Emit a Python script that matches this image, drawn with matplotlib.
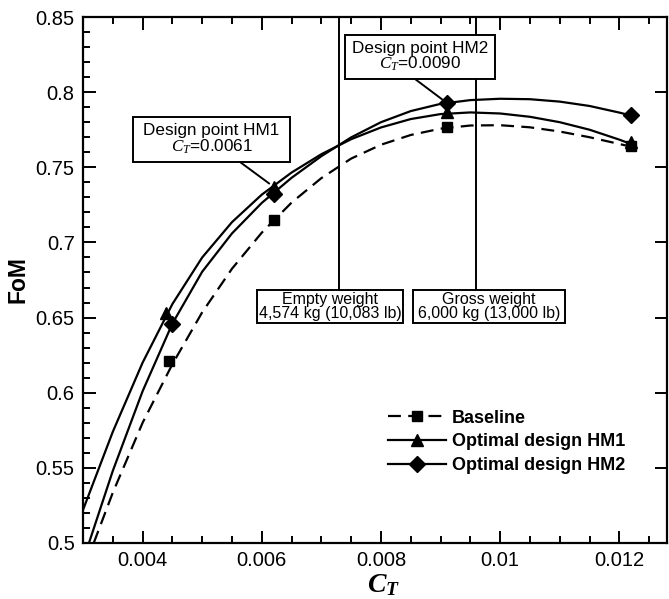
import matplotlib
matplotlib.use("Agg")
import matplotlib.pyplot as plt
from matplotlib.lines import Line2D
from matplotlib.patches import Rectangle
from matplotlib.ticker import FixedLocator, MultipleLocator

plt.rcParams['font.family'] = ['Liberation Sans', 'DejaVu Sans']
plt.rcParams['mathtext.fontset'] = 'custom'
plt.rcParams['mathtext.it'] = 'Liberation Serif:italic'
plt.rcParams['mathtext.bf'] = 'Liberation Serif:bold:italic'
plt.rcParams['mathtext.rm'] = 'Liberation Serif'

# ---- data ----
grid_x = [0.0035, 0.0040, 0.0045, 0.0050, 0.0055, 0.0060, 0.0065, 0.0070, 0.0075,
          0.0080, 0.0085, 0.0090, 0.0095, 0.0100, 0.0105, 0.0110, 0.0115, 0.0120, 0.0122]

base_curve_x = [0.00318] + grid_x
base_curve_y = [0.500, 0.5335, 0.580, 0.619, 0.6535, 0.6825, 0.7065, 0.7265, 0.7428, 0.7558,
                0.765, 0.7715, 0.7757, 0.7778, 0.778, 0.7766, 0.7738, 0.770, 0.7655, 0.7637]

hm1_curve_x = [0.0030] + grid_x
hm1_curve_y = [0.522, 0.574, 0.620, 0.659, 0.690, 0.7135, 0.7318, 0.7465, 0.7587, 0.7687,
               0.7765, 0.7821, 0.7854, 0.7865, 0.7858, 0.7836, 0.780, 0.775, 0.7684, 0.7654]

hm2_curve_x = [0.0031] + grid_x
hm2_curve_y = [0.500, 0.548, 0.601, 0.646, 0.6805, 0.706, 0.7263, 0.743, 0.7574, 0.7699,
               0.780, 0.7874, 0.7922, 0.7947, 0.7956, 0.7953, 0.7937, 0.7908, 0.7864, 0.7844]

base_pts_x = [0.00445, 0.0062, 0.0091, 0.0122]
base_pts_y = [0.621, 0.715, 0.777, 0.764]
hm1_pts_x = [0.0044, 0.0062, 0.0091, 0.0122]
hm1_pts_y = [0.653, 0.737, 0.787, 0.767]
hm2_pts_x = [0.0045, 0.0062, 0.0091, 0.0122]
hm2_pts_y = [0.646, 0.732, 0.793, 0.785]

series_names = ['Baseline', 'Optimal design HM1', 'Optimal design HM2']

x_ticks = [0.004, 0.006, 0.008, 0.010, 0.012]
x_tick_labels = ['0.004', '0.006', '0.008', '0.01', '0.012']
y_ticks = [0.5, 0.55, 0.6, 0.65, 0.7, 0.75, 0.8, 0.85]
y_tick_labels = ['0.5', '0.55', '0.6', '0.65', '0.7', '0.75', '0.8', '0.85']

weight_lines_x = [0.0073, 0.0096]
weight_texts = ['Empty weight\n4,574 kg (10,083 lb)', 'Gross weight\n6,000 kg (13,000 lb)']
design_texts = ['Design point HM1\n$C_T$=0.0061', 'Design point HM2\n$C_T$=0.0090']

# ---- figure ----
W, H = 669, 599
fig = plt.figure(figsize=(W / 100, H / 100), dpi=100)
ax = fig.add_axes([83 / W, 1 - 543 / H, (667 - 83) / W, (543 - 17) / H])
ax.set_xlim(0.003, 0.0128)
ax.set_ylim(0.5, 0.85)

def fx(px):
    return px / W

def fy(py):
    return 1 - py / H

lw = 1.6
k = 'black'
dash = (5.8, 3.3)
ax.plot(base_curve_x, base_curve_y, color=k, lw=lw, dashes=dash, zorder=3)
ax.plot(hm1_curve_x, hm1_curve_y, color=k, lw=lw, zorder=3)
ax.plot(hm2_curve_x, hm2_curve_y, color=k, lw=lw, zorder=3)
ax.plot(base_pts_x, base_pts_y, 's', color=k, ms=7, ls='none', zorder=4)
ax.plot(hm1_pts_x, hm1_pts_y, '^', color=k, ms=8.5, ls='none', zorder=4)
ax.plot(hm2_pts_x, hm2_pts_y, 'D', color=k, ms=8, ls='none', zorder=4)

def box(x0, y0, x1, y1, text, size):
    r = Rectangle((fx(x0), fy(y1)), fx(x1) - fx(x0), fy(y0) - fy(y1), transform=fig.transFigure,
                  fc='white', ec=k, lw=1.4, zorder=6, clip_on=False)
    ax.add_patch(r)
    ax.text(fx((x0 + x1) / 2), fy((y0 + y1) / 2), text, transform=fig.transFigure,
            ha='center', va='center', fontsize=size, linespacing=0.95, zorder=7)

# weight lines and boxes
for xv in weight_lines_x:
    ax.plot([xv, xv], [0.85, 0.6687], color=k, lw=1.4, zorder=2)
box(257, 290, 403, 323, weight_texts[0], 11.5)
box(413, 290, 565, 323, weight_texts[1], 11.5)

# design point annotations
ax.annotate('', xy=(hm1_pts_x[1], hm1_pts_y[1]), xytext=(fx(240), fy(162)),
            textcoords='figure fraction',
            arrowprops=dict(arrowstyle='-', lw=1.4, color=k, shrinkA=0, shrinkB=4), zorder=5)
ax.annotate('', xy=(hm2_pts_x[2], hm2_pts_y[2]), xytext=(fx(415), fy(79)),
            textcoords='figure fraction',
            arrowprops=dict(arrowstyle='-', lw=1.4, color=k, shrinkA=0, shrinkB=4), zorder=5)
box(133, 117, 290, 162, design_texts[0], 12.3)
box(345, 35, 495, 79, design_texts[1], 12.3)

# legend
handles = [
    Line2D([], [], color=k, lw=lw, dashes=dash, marker='s', ms=7),
    Line2D([], [], color=k, lw=lw, marker='^', ms=8.5),
    Line2D([], [], color=k, lw=lw, marker='D', ms=8),
]
leg = ax.legend(handles, series_names, loc='lower left', bbox_to_anchor=(0.522, 0.131),
                frameon=False, prop={'weight': 'bold', 'size': 13}, handlelength=3.2,
                handletextpad=0.35, labelspacing=0.37, borderpad=0, borderaxespad=0)

# axes styling
ax.xaxis.set_major_locator(FixedLocator(x_ticks))
ax.set_xticklabels(x_tick_labels)
ax.xaxis.set_minor_locator(MultipleLocator(0.0005))
ax.yaxis.set_major_locator(FixedLocator(y_ticks))
ax.set_yticklabels(y_tick_labels)
ax.yaxis.set_minor_locator(MultipleLocator(0.01))
ax.tick_params(which='both', direction='in', top=True, right=True, labelsize=14.5, width=1.4)
ax.tick_params(which='major', length=9, pad=6)
ax.tick_params(which='minor', length=5)
ax.tick_params(axis='y', which='minor', right=False)
for s in ax.spines.values():
    s.set_linewidth(1.6)

ax.set_ylabel('FoM', fontsize=16.5, fontweight='bold', labelpad=4)
ax.set_xlabel(r'$\mathbf{C_T}$', fontsize=20, labelpad=0)
ax.xaxis.set_label_coords((384 - 83) / (667 - 83), (543 - 585) / (543 - 17))
ax.xaxis.label.set_va('center')

fig.savefig('out.png', dpi=100)
